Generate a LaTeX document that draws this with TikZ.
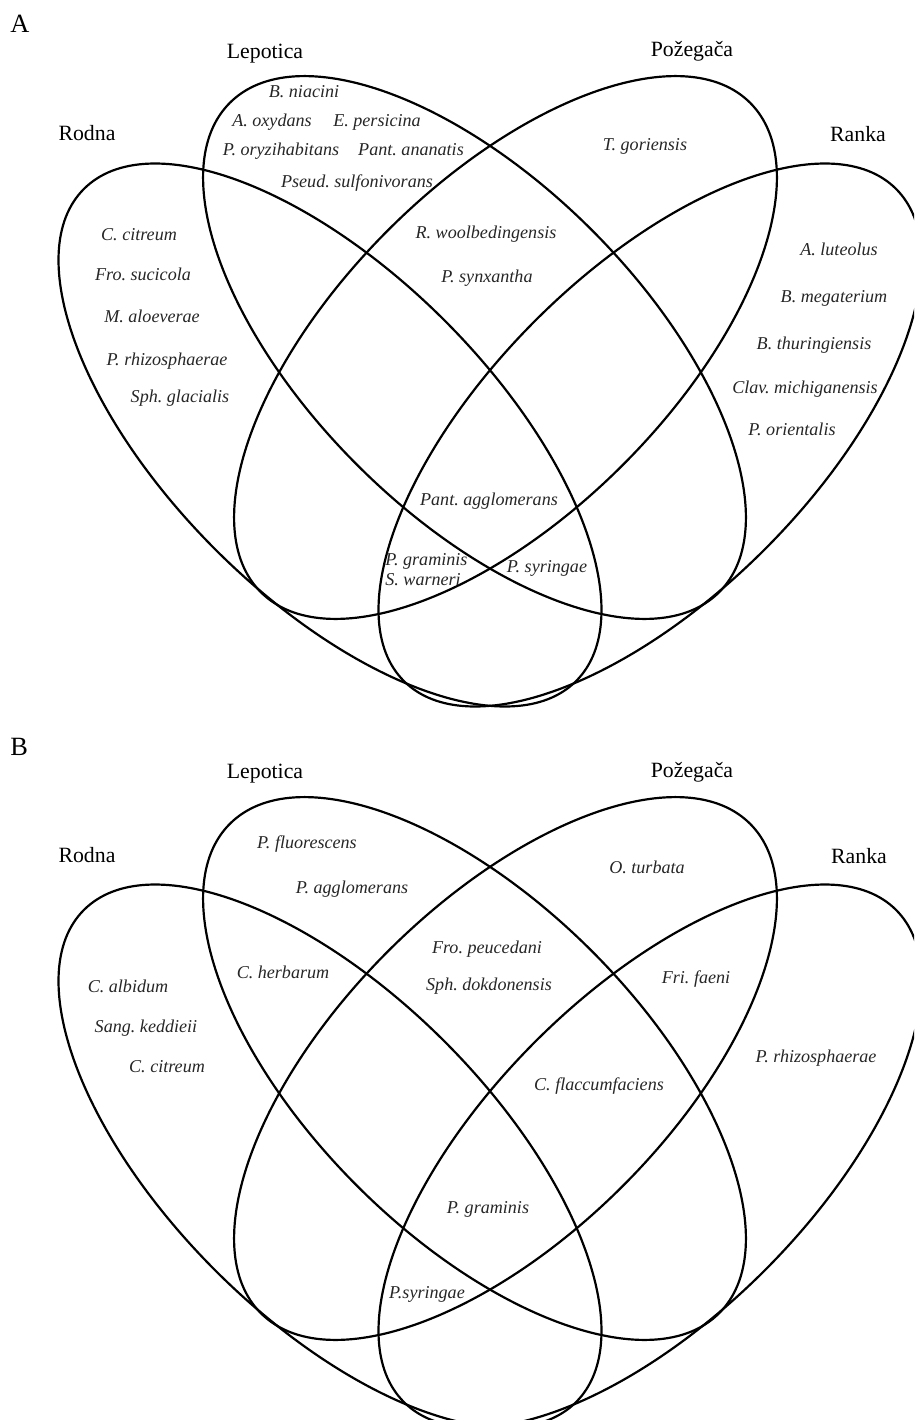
\documentclass[tikz,border=0pt]{standalone}
\usepackage{fontspec}
\setmainfont{Liberation Serif}
\usepackage{tikz}
\usetikzlibrary{positioning}

% the four sets: outer ones (Rodna, Ranka) and inner ones (Lepotica, Pozegaca)
\newcommand{\vennsets}{%
  \draw[venn, rotate around={-45:(330,435)}] (330,435) ellipse [x radius=348, y radius=162];
  \draw[venn, rotate around={45:(650,435)}] (650,435) ellipse [x radius=348, y radius=162];
  \draw[venn, rotate around={-45:(474.5,347.5)}] (474.5,347.5) ellipse [x radius=346, y radius=166];
  \draw[venn, rotate around={45:(505.5,347.5)}] (505.5,347.5) ellipse [x radius=346, y radius=166];
}

\begin{document}
\frenchspacing
\begin{tikzpicture}[
    x=0.02cm, y=-0.02cm,
    venn/.style={line width=1.25pt},
    setname/.style={anchor=base, inner sep=0pt, font=\fontsize{12.4}{14}\selectfont},
    species/.style={anchor=base, inner sep=0pt, text=black!85,
                    font=\fontsize{10.3}{12}\selectfont\itshape},
    panel/.style={anchor=base west, inner sep=0pt, font=\fontsize{15}{18}\selectfont}
]
\useasboundingbox (0,0) rectangle (914,1420);
\clip (0,0) rectangle (914,1420);

% ---------------- A ----------------
\vennsets

\node[panel] (panelA) at (10,32) {A};
\node[setname] (lepA) at (265,58) {Lepotica};
\node[setname] (pozA) at (692,56) {Požegača};
\node[setname] (rodA) at (87,140) {Rodna};
\node[setname] (ranA) at (858,141) {Ranka};

\node[species] (niacini) at (304,97) {B. niacini};
\node[species] (oxydans) at (272,126) {A. oxydans};
\node[species] (persicina) at (377,126) {E. persicina};
\node[species] (oryzi) at (281,155) {P. oryzihabitans};
\node[species] (ananatis) at (411,155) {Pant. ananatis};
\node[species] (sulfoni) at (357,187) {Pseud. sulfonivorans};
\node[species] (citreumA) at (139,240) {C. citreum};
\node[species] (sucicola) at (143,280) {Fro. sucicola};
\node[species] (aloeverae) at (152,322) {M. aloeverae};
\node[species] (rhizoA) at (167,365) {P. rhizosphaerae};
\node[species] (glacialis) at (180,402) {Sph. glacialis};
\node[species] (goriensis) at (645,150) {T. goriensis};
\node[species] (woolbed) at (486,238) {R. woolbedingensis};
\node[species] (synxantha) at (487,282) {P. synxantha};
\node[species] (luteolus) at (839,255) {A. luteolus};
\node[species] (megaterium) at (834,302) {B. megaterium};
\node[species] (thuring) at (814,349) {B. thuringiensis};
\node[species] (michigan) at (805,393) {Clav. michiganensis};
\node[species] (orientalis) at (792,435) {P. orientalis};
\node[species] (agglomA) at (489,505) {Pant. agglomerans};
\node[species, anchor=base west] (graminisA) at (385,565) {P. graminis};
\node[species, anchor=base west] (warneri) at (385,585) {S. warneri};
\node[species] (syringaeA) at (547,572) {P. syringae};

% ---------------- B ----------------
\begin{scope}[shift={(0,721)}]
  \vennsets
\end{scope}

\node[panel] (panelB) at (10,755) {B};
\node[setname] (lepB) at (265,778) {Lepotica};
\node[setname] (pozB) at (692,777) {Požegača};
\node[setname] (rodB) at (87,862) {Rodna};
\node[setname] (ranB) at (859,863) {Ranka};

\node[species] (fluoresc) at (307,848) {P. fluorescens};
\node[species] (agglomB) at (352,893) {P. agglomerans};
\node[species] (herbarum) at (283,978) {C. herbarum};
\node[species] (albidum) at (128,992) {C. albidum};
\node[species] (keddieii) at (146,1032) {Sang. keddieii};
\node[species] (citreumB) at (167,1072) {C. citreum};
\node[species] (turbata) at (647,873) {O. turbata};
\node[species] (peucedani) at (487,953) {Fro. peucedani};
\node[species] (dokdon) at (489,990) {Sph. dokdonensis};
\node[species] (faeni) at (696,983) {Fri. faeni};
\node[species] (rhizoB) at (816,1062) {P. rhizosphaerae};
\node[species] (flaccum) at (599,1090) {C. flaccumfaciens};
\node[species] (graminisB) at (488,1213) {P. graminis};
\node[species] (syringaeB) at (427,1298) {P.syringae};
\end{tikzpicture}
\end{document}
